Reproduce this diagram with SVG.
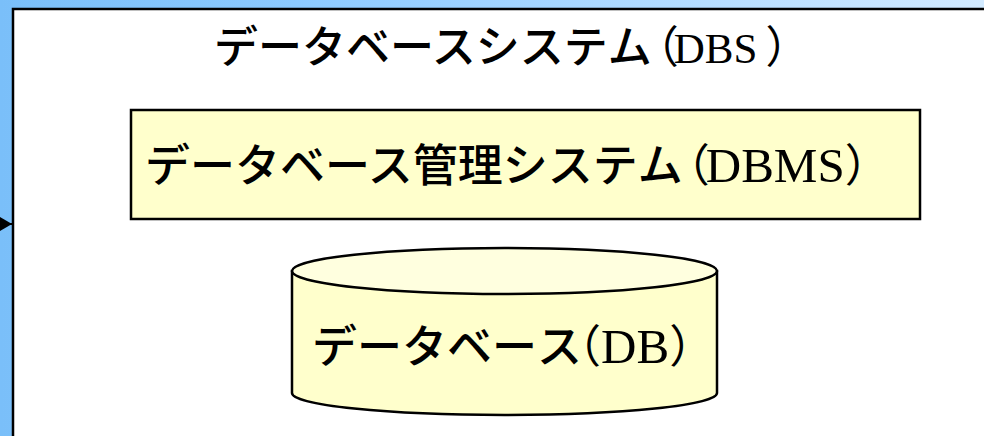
<svg xmlns="http://www.w3.org/2000/svg" width="984" height="436" viewBox="0 0 984 436">
  <style>
    .jp { font-family: "Noto Sans CJK JP", sans-serif; font-weight: 500; fill: #000; }
    .lat { font-family: "Liberation Serif", "Noto Sans CJK JP", serif; font-weight: 400; }
    .frame { fill: #ffffff; stroke: #000; stroke-width: 2.5; }
    .box { fill: #ffffcc; stroke: #000; stroke-width: 2.5; }
    .cyl { fill: #ffffcc; stroke: #000; stroke-width: 2.5; }
    .cyltop { fill: #ffffdf; stroke: #000; stroke-width: 2.5; }
  </style>
  <defs>
    <linearGradient id="bg" x1="0" y1="0" x2="1" y2="0">
      <stop offset="0" stop-color="#7abff9"/>
      <stop offset="0.3" stop-color="#8ccaff"/>
      <stop offset="1" stop-color="#d2eaff"/>
    </linearGradient>
    <marker id="arrow" markerUnits="userSpaceOnUse" markerWidth="14" markerHeight="16" refX="12" refY="7" orient="auto">
      <path d="M0,0 L12,7 L0,14 Z" fill="#000"/>
    </marker>
  </defs>
  <rect x="0" y="0" width="984" height="436" fill="url(#bg)"/>
  <g id="dbs">
    <rect class="frame" x="13" y="9" width="990" height="440"/>
    <text class="jp" x="214" y="63" font-size="44">データベースシステ<tspan letter-spacing="-17">ム</tspan><tspan class="lat" letter-spacing="-5">（</tspan><tspan class="lat" font-size="43">DBS</tspan><tspan class="lat" dx="8">）</tspan></text>
  </g>
  <g id="dbms">
    <rect class="box" x="131" y="110" width="789" height="109"/>
    <text class="jp" x="145" y="182" font-size="45">データベース管理システ<tspan letter-spacing="-18">ム</tspan><tspan class="lat" letter-spacing="-4">（</tspan><tspan class="lat" font-size="49">DBMS</tspan><tspan class="lat">）</tspan></text>
  </g>
  <g id="db">
    <path class="cyl" d="M292,271 L292,393 A212.5,22 0 0 0 717,393 L717,271 Z"/>
    <ellipse class="cyltop" cx="504.5" cy="271" rx="212.5" ry="23"/>
    <text class="jp" x="312" y="363" font-size="45">データベー<tspan letter-spacing="-26">ス</tspan><tspan class="lat">（</tspan><tspan class="lat" font-size="49">DB</tspan><tspan class="lat">）</tspan></text>
  </g>
  <g id="connectors">
    <path d="M-40,224 L12,224" stroke="#000" stroke-width="2" fill="none" marker-end="url(#arrow)"/>
  </g>
</svg>
